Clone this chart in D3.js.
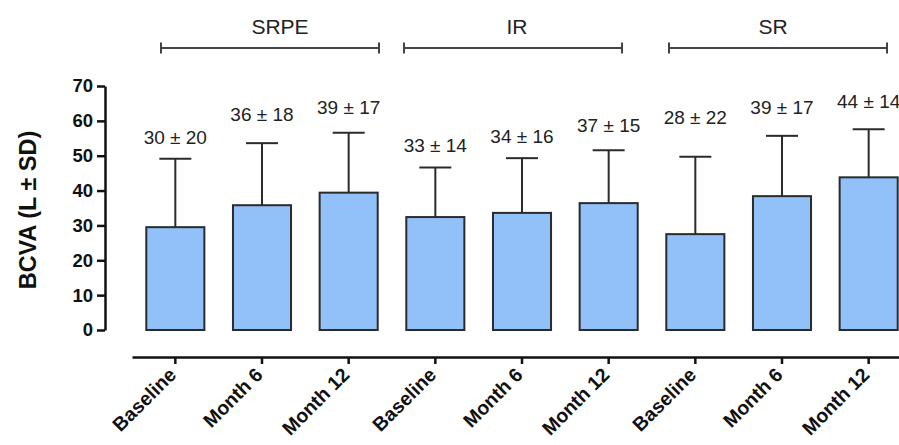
<!DOCTYPE html>
<html>
<head>
<meta charset="utf-8">
<script src="https://cdn.jsdelivr.net/npm/d3@7"></script>
<style>
  html, body { margin: 0; padding: 0; background: #fff; }
  svg { display: block; font-family: "Liberation Sans", Arial, sans-serif; }
</style>
</head>
<body>
<div id="chart"></div>
<script>
// BCVA by fluid type and visit
const timepoints = ['Baseline', 'Month 6', 'Month 12', 'Baseline', 'Month 6', 'Month 12', 'Baseline', 'Month 6', 'Month 12'];
const groups = ['SRPE', 'IR', 'SR'];
const means = [29.5, 35.8, 39.4, 32.4, 33.6, 36.4, 27.5, 38.4, 43.8];
const sds = [19.6, 17.8, 17.2, 14.2, 15.7, 15.2, 22.2, 17.3, 13.8];
// rounded values printed above the bars
const labelMeans = [30, 36, 39, 33, 34, 37, 28, 39, 44];
const labelSds = [20, 18, 17, 14, 16, 15, 22, 17, 14];
const yTicks = [0, 10, 20, 30, 40, 50, 60, 70];

// hand-placed annotation offsets in the original figure (px)
const labelGap = [15, 22, 19, 16, 15, 18, 33, 22, 21];
const bracketShift = [8, -9, -4];
const groupTextShift = [18, -5, -9];

const width = 899, height = 445;
const ink = '#2b2b2b';

const svg = d3.select('#chart').append('svg')
  .attr('width', width)
  .attr('height', height);

const x = d3.scaleBand()
  .domain(d3.range(timepoints.length))
  .range([132, 912])
  .paddingInner(0.33)
  .paddingOuter(0.165);

const y = d3.scaleLinear()
  .domain([0, 70])
  .range([330, 86]);

const cx = i => x(i) + x.bandwidth() / 2;

// y axis
const yAxis = svg.append('g')
  .attr('transform', 'translate(105,0)')
  .call(d3.axisLeft(y).tickValues(yTicks).tickSize(8).tickSizeOuter(0).tickPadding(4));
yAxis.select('.domain').attr('stroke', '#111').attr('stroke-width', 2.5);
yAxis.selectAll('.tick line').attr('stroke', '#111').attr('stroke-width', 2.5);
yAxis.selectAll('.tick text')
  .attr('fill', '#111')
  .style('font-size', '18.5px')
  .style('font-weight', 'bold')
  .style('font-family', '"Liberation Sans", Arial, sans-serif');

svg.append('text')
  .attr('transform', 'translate(36,210) rotate(-90)')
  .attr('text-anchor', 'middle')
  .attr('fill', '#111')
  .style('font-size', '23.5px')
  .style('font-weight', 'bold')
  .text('BCVA (L ± SD)');

// x axis (detached, below the plot)
const xAxis = svg.append('g')
  .attr('transform', 'translate(0,357)')
  .call(d3.axisBottom(x).tickSize(7).tickSizeOuter(0).tickFormat(i => timepoints[i]));
xAxis.select('.domain').attr('stroke', '#111').attr('stroke-width', 2.5);
xAxis.selectAll('.tick line').attr('stroke', '#111').attr('stroke-width', 2.5);
xAxis.selectAll('.tick text')
  .attr('x', 0).attr('y', 0).attr('dy', 0)
  .attr('transform', 'translate(2,19) rotate(-45)')
  .attr('text-anchor', 'end')
  .attr('fill', '#111')
  .style('font-size', '19.5px')
  .style('font-weight', 'bold')
  .style('font-family', '"Liberation Sans", Arial, sans-serif');

// error bars (upper only)
const err = svg.append('g').attr('stroke', ink).attr('stroke-width', 2);
means.forEach((m, i) => {
  err.append('line')
    .attr('x1', cx(i)).attr('x2', cx(i))
    .attr('y1', y(m)).attr('y2', y(m + sds[i]));
  err.append('line')
    .attr('x1', cx(i) - 16).attr('x2', cx(i) + 16)
    .attr('y1', y(m + sds[i])).attr('y2', y(m + sds[i]));
});

// bars
svg.append('g').selectAll('rect')
  .data(means)
  .join('rect')
  .attr('x', (d, i) => x(i))
  .attr('y', d => y(d))
  .attr('width', x.bandwidth())
  .attr('height', d => y(0) - y(d))
  .attr('fill', '#92c0f9')
  .attr('stroke', ink)
  .attr('stroke-width', 2);

// mean ± SD annotations
svg.append('g').selectAll('text')
  .data(means)
  .join('text')
  .attr('x', (d, i) => cx(i))
  .attr('y', (d, i) => y(d + sds[i]) - labelGap[i])
  .attr('text-anchor', 'middle')
  .attr('fill', '#222')
  .style('font-size', '19px')
  .text((d, i) => `${labelMeans[i]} ± ${labelSds[i]}`);

// group brackets
groups.forEach((g, k) => {
  const mid = cx(k * 3 + 1);
  const bx = mid + bracketShift[k];
  const half = 109;
  const br = svg.append('g').attr('stroke', '#444').attr('stroke-width', 2);
  br.append('line').attr('x1', bx - half).attr('x2', bx + half).attr('y1', 48).attr('y2', 48);
  br.append('line').attr('x1', bx - half).attr('x2', bx - half).attr('y1', 42.5).attr('y2', 53.5);
  br.append('line').attr('x1', bx + half).attr('x2', bx + half).attr('y1', 42.5).attr('y2', 53.5);
  svg.append('text')
    .attr('x', mid + groupTextShift[k])
    .attr('y', 34)
    .attr('text-anchor', 'middle')
    .attr('fill', '#222')
    .style('font-size', '21px')
    .text(g);
});
</script>
</body>
</html>
